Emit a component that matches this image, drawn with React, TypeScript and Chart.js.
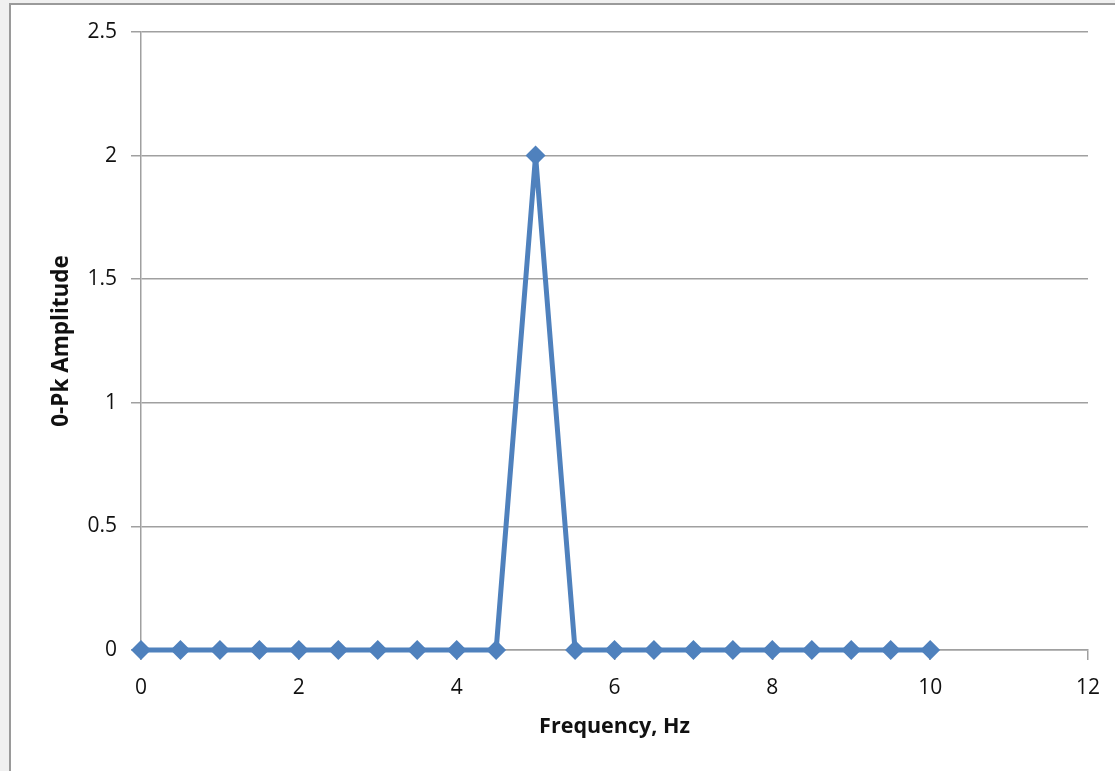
import React, { useEffect, useRef } from "react";
import { Chart, registerables } from "chart.js";

Chart.register(...registerables);

const frequencies: number[] = [0, 0.5, 1, 1.5, 2, 2.5, 3, 3.5, 4, 4.5, 5, 5.5, 6, 6.5, 7, 7.5, 8, 8.5, 9, 9.5, 10];
const amplitudes: number[] = [0, 0, 0, 0, 0, 0, 0, 0, 0, 0, 2, 0, 0, 0, 0, 0, 0, 0, 0, 0, 0];
const xTitle = "Frequency, Hz";
const yTitle = "0-Pk Amplitude";

const W = 1115;
const H = 771;
const FONT = "'Open Sans', 'Liberation Sans', sans-serif";

export default function App() {
  const ref = useRef<HTMLCanvasElement | null>(null);

  useEffect(() => {
    if (!ref.current) return;
    const chart = new Chart(ref.current, {
      type: "line",
      data: {
        datasets: [
          {
            data: frequencies.map((f, i) => ({ x: f, y: amplitudes[i] })),
            borderColor: "#4F81BD",
            backgroundColor: "#4F81BD",
            borderWidth: 5,
            pointStyle: "rectRot",
            pointRadius: 10,
            pointBorderWidth: 0,
            pointBackgroundColor: "#4F81BD",
            pointBorderColor: "#4F81BD",
            tension: 0,
            fill: false,
            clip: false,
          },
        ],
      },
      options: {
        responsive: false,
        animation: false,
        layout: { padding: { left: 0, right: 27, top: 32, bottom: 0 } },
        plugins: { legend: { display: false }, tooltip: { enabled: false } },
        scales: {
          x: {
            type: "linear",
            min: 0,
            max: 12,
            afterFit: (s: any) => {
              s.height = 121;
            },
            ticks: {
              stepSize: 2,
              padding: 15,
              color: "#111",
              font: { family: FONT, size: 21 },
            },
            grid: {
              drawOnChartArea: false,
              drawTicks: true,
              tickLength: 10,
              color: "#a0a0a0",
              lineWidth: 1.5,
            },
            border: { display: true, color: "#a0a0a0", width: 1.5 },
            title: {
              display: true,
              text: xTitle,
              color: "#111",
              font: { family: FONT, size: 21.5, weight: "bold" },
              padding: { top: 0, bottom: 31 },
            },
          },
          y: {
            type: "linear",
            min: 0,
            max: 2.5,
            afterFit: (s: any) => {
              s.width = 141;
            },
            ticks: {
              stepSize: 0.5,
              padding: 14,
              color: "#111",
              font: { family: FONT, size: 21 },
              callback: (v: any) => String(Number(v)),
            },
            grid: {
              drawOnChartArea: true,
              drawTicks: true,
              tickLength: 10,
              color: "#a0a0a0",
              lineWidth: 1.5,
            },
            border: { display: true, color: "#a0a0a0", width: 1.5 },
            title: {
              display: true,
              text: yTitle,
              color: "#111",
              font: { family: FONT, size: 22.5, weight: "bold" },
              padding: { top: 48, bottom: 0 },
            },
          },
        },
      },
    });
    return () => chart.destroy();
  }, []);

  return (
    <div style={{ position: "fixed", left: 0, top: 0, width: W, height: H, background: "#f0f0f0", overflow: "hidden" }}>
      <div
        style={{
          position: "absolute",
          left: 9,
          top: 3,
          width: W,
          height: H,
          background: "#ffffff",
          borderLeft: "2px solid #9a9a9a",
          borderTop: "2px solid #9a9a9a",
        }}
      />
      <canvas ref={ref} width={W} height={H} style={{ position: "absolute", left: 0, top: 0, width: W, height: H }} />
    </div>
  );
}
